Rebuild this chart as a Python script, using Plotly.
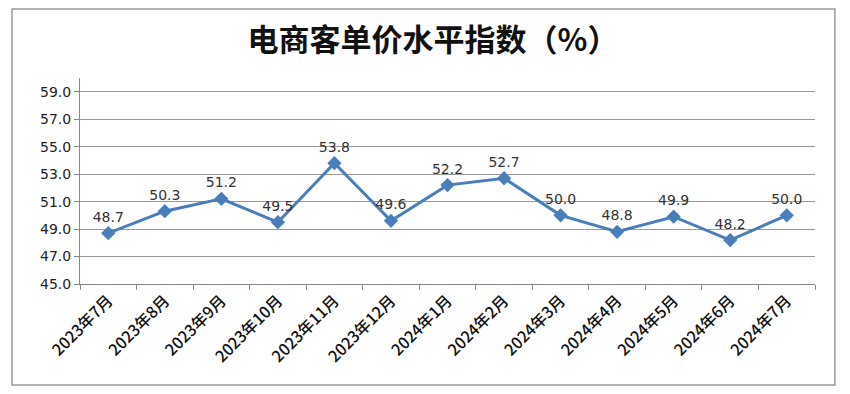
import plotly.graph_objects as go

categories = ["2023年7月", "2023年8月", "2023年9月", "2023年10月", "2023年11月", "2023年12月",
              "2024年1月", "2024年2月", "2024年3月", "2024年4月", "2024年5月", "2024年6月", "2024年7月"]
values = [48.7, 50.3, 51.2, 49.5, 53.8, 49.6, 52.2, 52.7, 50.0, 48.8, 49.9, 48.2, 50.0]
y_ticks = [45, 47, 49, 51, 53, 55, 57, 59]

font_family = "Noto Sans CJK SC, DejaVu Sans, sans-serif"

fig = go.Figure()
fig.add_trace(go.Scatter(
    x=categories, y=values,
    mode="lines+markers+text",
    line=dict(color="#4A7EBB", width=3),
    marker=dict(symbol="diamond", size=11, color="#4A7EBB"),
    text=[f"{v:.1f}" for v in values],
    textposition="top center",
    textfont=dict(size=14, color="#333333", family="DejaVu Sans, sans-serif"),
    cliponaxis=False,
    showlegend=False,
))

fig.update_layout(
    width=850, height=394,
    margin=dict(l=72, r=43, t=70, b=118),
    paper_bgcolor="white", plot_bgcolor="white",
    title=dict(text="<b>电商客单价水平指数（%）</b>", x=0.5, xanchor="center",
               y=0.919, yanchor="middle",
               font=dict(size=31, color="#111111", family=font_family)),
    font=dict(family=font_family),
    xaxis=dict(
        type="category", tickson="boundaries", ticks="outside", ticklen=5,
        tickcolor="#888888", showline=True, linecolor="#888888", linewidth=1,
        showgrid=False, tickangle=-45,
        tickfont=dict(size=16, color="#111111", family=font_family, weight=500),
        range=[-0.5, 12.5],
    ),
    yaxis=dict(
        range=[45, 60], tickvals=y_ticks, ticktext=[f"{v:.1f}" for v in y_ticks],
        ticks="outside", ticklen=5, tickcolor="#888888",
        showline=True, linecolor="#888888", linewidth=1,
        showgrid=True, gridcolor="#999999", gridwidth=1, zeroline=False,
        tickfont=dict(size=14, color="#222222", family="DejaVu Sans, sans-serif"),
    ),
    shapes=[dict(type="rect", xref="paper", yref="paper",
                 x0=-0.0925, x1=1.027, y0=-0.49, y1=1.335,
                 line=dict(color="#999999", width=1.5), fillcolor="rgba(0,0,0,0)", layer="below")],
)

fig.write_html("out.html")
